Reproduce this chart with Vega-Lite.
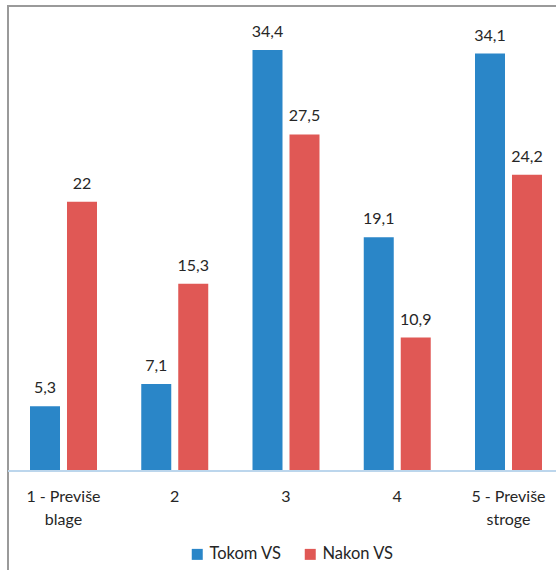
{
  "$schema": "https://vega.github.io/schema/vega-lite/v6.json",
  "width": 556,
  "height": 579,
  "padding": {"left": 8, "top": 6, "right": 0, "bottom": 0},
  "autosize": {"type": "none"},
  "config": {
    "view": {"stroke": "#9a9a9a", "strokeWidth": 2},
    "locale": {"number": {"decimal": ",", "thousands": ".", "grouping": [3], "currency": ["", " €"]}}
  },
  "data": {
    "values": [
      {"cat": "1 - Previše\nblage", "series": "Tokom VS", "value": 5.3},
      {"cat": "1 - Previše\nblage", "series": "Nakon VS", "value": 22},
      {"cat": "2", "series": "Tokom VS", "value": 7.1},
      {"cat": "2", "series": "Nakon VS", "value": 15.3},
      {"cat": "3", "series": "Tokom VS", "value": 34.4},
      {"cat": "3", "series": "Nakon VS", "value": 27.5},
      {"cat": "4", "series": "Tokom VS", "value": 19.1},
      {"cat": "4", "series": "Nakon VS", "value": 10.9},
      {"cat": "5 - Previše\nstroge", "series": "Tokom VS", "value": 34.1},
      {"cat": "5 - Previše\nstroge", "series": "Nakon VS", "value": 24.2}
    ]
  },
  "layer": [
    {
      "mark": {"type": "bar"},
      "encoding": {
        "x": {"field": "cat", "type": "nominal", "sort": null, "axis": null,
              "scale": {"paddingInner": 0.3978, "paddingOuter": 0.1978}},
        "xOffset": {"field": "series", "type": "nominal", "sort": ["Tokom VS", "Nakon VS"],
                    "scale": {"paddingInner": 0.189, "paddingOuter": 0}},
        "y": {"field": "value", "type": "quantitative", "axis": null,
              "scale": {"domain": [-9.31, 37.99], "nice": false, "zero": false}},
        "y2": {"datum": 0},
        "color": {"field": "series", "type": "nominal", "sort": ["Tokom VS", "Nakon VS"],
                  "scale": {"domain": ["Tokom VS", "Nakon VS"], "range": ["#2A86C8", "#E05855"]},
                  "legend": {"title": null, "orient": "none", "legendX": 181, "legendY": 540,
                             "direction": "horizontal", "symbolType": "square", "symbolSize": 121,
                             "symbolStrokeWidth": 0, "labelFont": "Lato", "labelFontSize": 16.5,
                             "labelColor": "#262626", "labelOffset": 4, "columnPadding": 20}}
      }
    },
    {
      "mark": {"type": "rule", "color": "#bcd6ec", "strokeWidth": 1.8},
      "encoding": {"y": {"datum": 0}}
    },
    {
      "mark": {"type": "text", "font": "Lato", "fontSize": 16, "color": "#262626", "baseline": "alphabetic", "dy": -13},
      "encoding": {
        "x": {"field": "cat", "type": "nominal", "sort": null},
        "xOffset": {"field": "series", "type": "nominal", "sort": ["Tokom VS", "Nakon VS"]},
        "y": {"field": "value", "type": "quantitative"},
        "text": {"field": "value", "type": "quantitative", "format": ".1~f"}
      }
    },
    {
      "transform": [{"filter": "datum.series == 'Tokom VS'"}],
      "mark": {"type": "text", "font": "Lato", "fontSize": 16, "color": "#262626", "baseline": "alphabetic", "lineBreak": "\n", "lineHeight": 23},
      "encoding": {
        "x": {"field": "cat", "type": "nominal", "sort": null},
        "y": {"datum": -2.56},
        "text": {"field": "cat", "type": "nominal"}
      }
    }
  ]
}
